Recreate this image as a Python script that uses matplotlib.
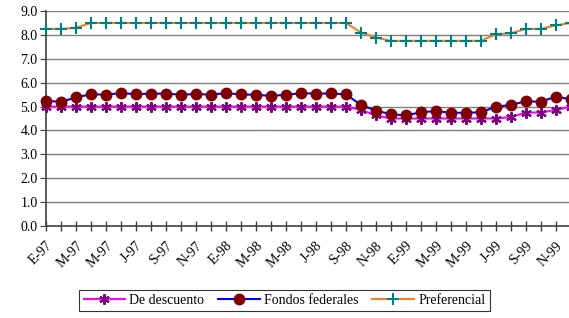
import numpy as np
import matplotlib
matplotlib.use('Agg')
import matplotlib.pyplot as plt

plt.rcParams['font.family'] = ['Liberation Serif', 'DejaVu Serif']

# Tasas mensuales, enero 1997 - diciembre 1999
meses = ['E-97', 'F-97', 'M-97', 'A-97', 'M-97', 'J-97', 'J-97', 'A-97', 'S-97', 'O-97', 'N-97', 'D-97',
         'E-98', 'F-98', 'M-98', 'A-98', 'M-98', 'J-98', 'J-98', 'A-98', 'S-98', 'O-98', 'N-98', 'D-98',
         'E-99', 'F-99', 'M-99', 'A-99', 'M-99', 'J-99', 'J-99', 'A-99', 'S-99', 'O-99', 'N-99', 'D-99']

descuento = [5.0, 5.0, 5.0, 5.0, 5.0, 5.0, 5.0, 5.0, 5.0, 5.0, 5.0, 5.0,
             5.0, 5.0, 5.0, 5.0, 5.0, 5.0, 5.0, 5.0, 5.0, 4.86, 4.63, 4.5,
             4.5, 4.5, 4.5, 4.5, 4.5, 4.5, 4.5, 4.56, 4.75, 4.75, 4.86, 5.0]

fondos = [5.25, 5.19, 5.39, 5.51, 5.50, 5.56, 5.52, 5.54, 5.54, 5.50, 5.52, 5.50,
          5.56, 5.51, 5.49, 5.45, 5.49, 5.56, 5.54, 5.55, 5.51, 5.07, 4.83, 4.68,
          4.63, 4.76, 4.81, 4.74, 4.74, 4.76, 4.99, 5.07, 5.22, 5.20, 5.42, 5.30]

preferencial = [8.25, 8.25, 8.30, 8.50, 8.50, 8.50, 8.50, 8.50, 8.50, 8.50, 8.50, 8.50,
                8.50, 8.50, 8.50, 8.50, 8.50, 8.50, 8.50, 8.50, 8.50, 8.10, 7.89, 7.75,
                7.75, 7.75, 7.75, 7.75, 7.75, 7.75, 8.03, 8.07, 8.25, 8.25, 8.40, 8.50]

x = np.arange(len(meses))

fig = plt.figure(figsize=(5.69, 3.18), dpi=100)
ax = fig.add_axes([0.0808, 0.2893, 0.9225, 0.6761])

ax.plot(x, descuento, color='#FF00FF', lw=1.5, marker=(6, 2, 0), ms=7.5, mec='#800080', mew=1.5,
        label='De descuento', clip_on=False, zorder=3)
ax.plot(x, fondos, color='#0000FF', lw=1.5, marker='o', ms=7.5, mfc='#800000', mec='#800000',
        label='Fondos federales', clip_on=False, zorder=4)
ax.plot(x, preferencial, color='#F08020', lw=1.5, marker='+', ms=9, mec='#008080', mew=1.5,
        label='Preferencial', clip_on=False, zorder=3)

ax.set_xlim(0, 35)
ax.set_ylim(0, 9)
ax.set_yticks(np.arange(0, 9.5, 1.0))
ax.set_yticklabels([f'{v:.1f}' for v in np.arange(0, 9.5, 1.0)], fontsize=10)
ax.yaxis.grid(True, color='#808080', lw=1)
ax.set_axisbelow(True)

ax.set_xticks(x[::2])
ax.set_xticklabels(meses[::2], rotation=45, ha='right', rotation_mode='anchor', fontsize=10)
ax.set_xticks(x, minor=True)
ax.tick_params(axis='x', which='both', direction='inout', length=7, width=1, color='#404040', pad=6)
ax.tick_params(axis='y', direction='out', length=4, color='#404040', pad=2)

for s in ['top', 'right']:
    ax.spines[s].set_visible(False)
ax.spines['left'].set_color('#404040')
ax.spines['bottom'].set_color('#404040')
ax.spines['left'].set_linewidth(1.2)
ax.spines['bottom'].set_linewidth(1.2)

leg = fig.legend(loc='lower center', bbox_to_anchor=(0.5, 0.0), ncol=3, fontsize=10,
                 frameon=True, fancybox=False, edgecolor='black', handlelength=3,
                 columnspacing=1.0, handletextpad=0.3, borderpad=0.3)
leg.get_frame().set_linewidth(0.8)

fig.savefig('out.png', dpi=100)
